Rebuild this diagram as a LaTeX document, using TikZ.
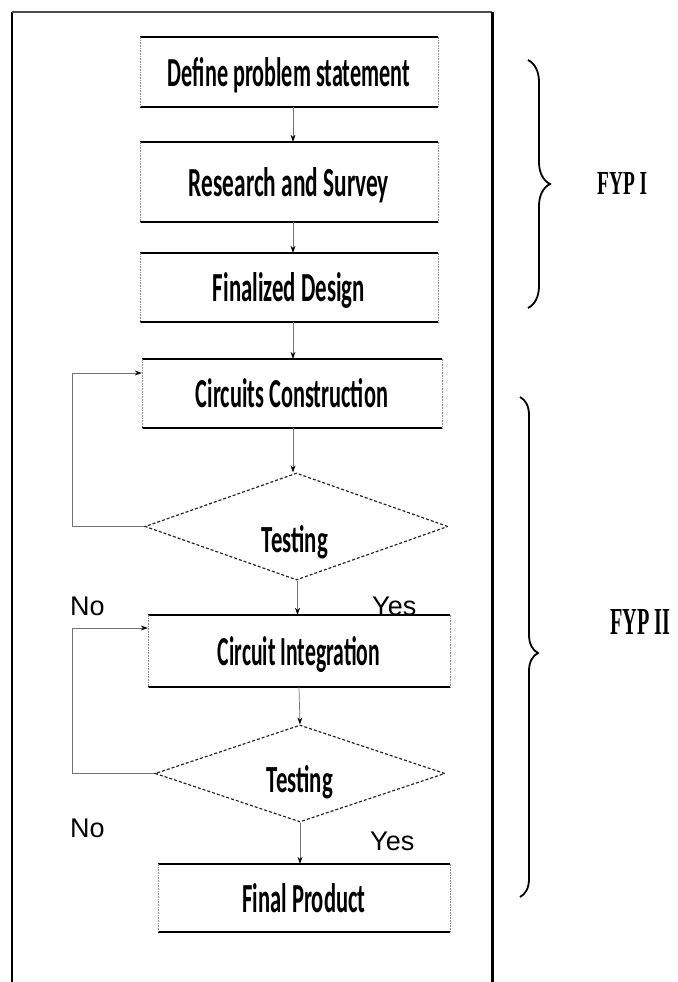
\documentclass[tikz,border=0pt]{standalone}
\usepackage{fontspec}
\usepackage{graphicx}
\setmainfont{Carlito}
\newfontfamily\arialf{Liberation Sans}
\newfontfamily\serf{Liberation Serif}
\usetikzlibrary{shapes.geometric,arrows.meta,decorations.pathreplacing}
\newcommand{\boxlines}[1]{%
  \draw[hline] (#1.north west) -- (#1.north east);
  \draw[hline] (#1.south west) -- (#1.south east);
  \draw[vline] (#1.north west) -- (#1.south west);
  \draw[vline] (#1.north east) -- (#1.south east);}
\newcommand{\bt}[2]{\resizebox{#1pt}{29pt}{\bfseries #2}}
\begin{document}
\begin{tikzpicture}[x=1pt,y=-1pt,
  boxnode/.style={rectangle,draw=none,inner sep=0pt,text height=28pt,text depth=0pt},
  hline/.style={draw=black,line width=2.2pt},
  vline/.style={draw=black!45,line width=0.6pt,densely dotted},
  decide/.style={diamond,draw=black!85,line width=1.2pt,densely dashed,inner sep=0pt},
  dtext/.style={inner sep=0pt,anchor=base},
  arr/.style={draw=black!55,line width=0.7pt,-{Stealth[length=7pt,width=5pt,black]}},
  yn/.style={font=\arialf\fontsize{27}{27}\selectfont,inner sep=0pt,anchor=base west},
  fyp/.style={font=\serf\bfseries,inner sep=0pt,anchor=south west},
  brc/.style={draw=black,line width=1.8pt,decorate,decoration={brace,amplitude=#1}},
  frame/.style={draw=black,line width=2.6pt}]
\useasboundingbox (0,0) rectangle (677,982);
% outer frame
\coordinate (f1) at (12,982);
\coordinate (f2) at (12,12);
\coordinate (f3) at (492,12);
\coordinate (f4) at (492,982);
\draw[frame] (f1) -- (f2);
\draw[draw=black!70,line width=1.6pt] (f2) -- (f3);
\draw[frame,line width=3pt] (f3) -- (f4);
% process boxes
\node[boxnode,minimum width=298pt,minimum height=70pt] (b1) at (289,72) {\bt{242}{Define problem statement}};
\node[boxnode,minimum width=298pt,minimum height=80pt] (b2) at (289,182) {\bt{200}{Research and Survey}};
\node[boxnode,minimum width=298pt,minimum height=69pt] (b3) at (289,287.5) {\bt{152}{Finalized Design}};
\node[boxnode,minimum width=300pt,minimum height=69pt] (b4) at (292,393.5) {\bt{192}{Circuits Construction}};
\node[boxnode,minimum width=302pt,minimum height=72pt] (b5) at (299,651) {\bt{162}{Circuit Integration}};
\node[boxnode,minimum width=292pt,minimum height=68pt] (b6) at (304,898) {\bt{123}{Final Product}};
\boxlines{b1}\boxlines{b2}\boxlines{b3}\boxlines{b4}\boxlines{b5}\boxlines{b6}
% decisions
\node[decide,minimum width=303pt,minimum height=107pt] (d1) at (296.5,526.5) {};
\node[dtext] (t1) at (295,552) {\resizebox{66pt}{27pt}{\bfseries Testing}};
\node[decide,minimum width=290pt,minimum height=97pt] (d2) at (300,773.5) {};
\node[dtext] (t2) at (300,792) {\resizebox{66pt}{27pt}{\bfseries Testing}};
% connectors
\draw[arr] (b1.south) ++(4,0) coordinate (s1) -- (s1 |- b2.north);
\draw[arr] (b2.south) ++(4,0) coordinate (s2) -- (s2 |- b3.north);
\draw[arr] (b3.south) ++(4,0) coordinate (s3) -- (s3 |- b4.north);
\draw[arr] (b4.south) ++(1,0) coordinate (s4) -- (s4 |- d1.north);
\draw[arr] (d1.south) ++(1,0) coordinate (s5) -- (s5 |- b5.north);
\draw[arr] (b5.south) -- (d2.north);
\draw[arr] (d2.south) -- (d2.south |- b6.north);
% loops back
\coordinate (lx) at (72,0);
\draw[arr] (d1.west) -- (d1.west -| lx) |- ([yshift=20.5pt]b4.west);
\draw[arr] (d2.west) -- (d2.west -| lx) |- ([yshift=23pt]b5.west);
% labels
\node[yn] (n1) at (70,615) {No};
\node[yn] (y1) at (372,615) {Yes};
\node[yn] (n2) at (70,837) {No};
\node[yn] (y2) at (370,850) {Yes};
% braces
\coordinate (br1a) at (528,60);
\coordinate (br1b) at (528,308);
\draw[brc=22pt] (br1a) -- (br1b);
\coordinate (br2a) at (520,397);
\coordinate (br2b) at (520,897);
\draw[brc=18pt,decoration={aspect=0.512}] (br2a) -- (br2b);
\node[fyp] (fyp1) at (597,195) {\resizebox{50pt}{22pt}{FYP I}};
\node[fyp] (fyp2) at (610,635) {\resizebox{60pt}{25pt}{FYP II}};
\end{tikzpicture}
\end{document}
